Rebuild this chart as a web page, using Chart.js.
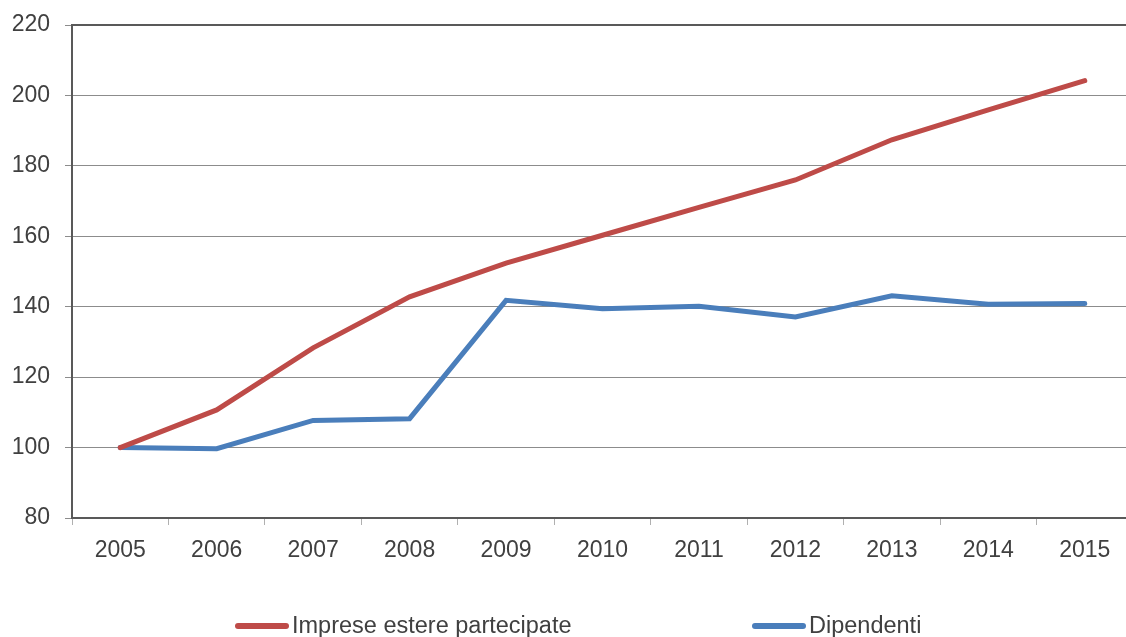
<!DOCTYPE html>
<html>
<head>
<meta charset="utf-8">
<script src="https://cdn.jsdelivr.net/npm/chart.js@4/dist/chart.umd.min.js"></script>
<style>
  html, body { margin: 0; padding: 0; background: #fff; overflow: hidden; }
  #wrap { width: 1136px; height: 637px; }
</style>
</head>
<body>
<div id="wrap"><canvas id="myLineChart" width="1136" height="637"></canvas></div>
<script>
// Anni e serie (indice 2005 = 100)
const years = ['2005', '2006', '2007', '2008', '2009', '2010', '2011', '2012', '2013', '2014', '2015'];
const impreseEstere = [100, 110.7, 128.3, 142.8, 152.4, 160.3, 168.2, 176.0, 187.4, 195.9, 204.2];
const dipendenti = [100, 99.7, 107.7, 108.2, 141.8, 139.4, 140.1, 137.1, 143.1, 140.7, 140.9];
const seriesLabels = ['Imprese estere partecipate', 'Dipendenti'];
const yMin = 80, yMax = 220, yStep = 20;

const textColor = '#404040';
const axisColor = '#595959';

// top/right frame of the plot area + legend at the bottom
const framePlugin = {
  id: 'frameAndLegend',
  afterDraw(chart) {
    const ctx = chart.ctx;
    const a = chart.chartArea;
    ctx.save();
    ctx.strokeStyle = axisColor;
    ctx.lineWidth = 2;
    ctx.beginPath();
    ctx.moveTo(a.left - 1, a.top);
    ctx.lineTo(a.right, a.top);
    ctx.lineTo(a.right, a.bottom);
    ctx.stroke();

    // legend
    const legendX = [235, 752];
    const legendY = 626;
    ctx.font = '23.5px "Liberation Sans", Arial, sans-serif';
    ctx.textBaseline = 'middle';
    chart.data.datasets.forEach((ds, i) => {
      ctx.strokeStyle = ds.borderColor;
      ctx.lineWidth = 6;
      ctx.lineCap = 'round';
      ctx.beginPath();
      ctx.moveTo(legendX[i] + 3, legendY);
      ctx.lineTo(legendX[i] + 51, legendY);
      ctx.stroke();
      ctx.fillStyle = textColor;
      ctx.fillText(ds.label, legendX[i] + 57, legendY + 1);
    });
    ctx.restore();
  }
};

const chartEl = document.getElementById('myLineChart').getContext('2d');

const myLineChart = new Chart(chartEl, {
  type: 'line',
  data: {
    labels: years,
    datasets: [{
      label: seriesLabels[0],
      data: impreseEstere,
      borderColor: '#BE4B48',
      backgroundColor: '#BE4B48',
      borderWidth: 5,
      borderCapStyle: 'round',
      pointRadius: 0,
      tension: 0,
      fill: false
    }, {
      label: seriesLabels[1],
      data: dipendenti,
      borderColor: '#4A7EBB',
      backgroundColor: '#4A7EBB',
      borderWidth: 5,
      borderCapStyle: 'round',
      pointRadius: 0,
      tension: 0,
      fill: false
    }]
  },
  options: {
    responsive: false,
    animation: false,
    layout: { padding: { top: 25, right: 3, left: 0, bottom: 0 } },
    plugins: {
      legend: { display: false },
      tooltip: { enabled: false }
    },
    scales: {
      x: {
        offset: true,
        grid: {
          offset: true,
          drawOnChartArea: false,
          color: '#b0b0b0',
          tickLength: 7
        },
        border: { color: axisColor, width: 2 },
        ticks: {
          color: textColor,
          padding: 12,
          maxRotation: 0,
          font: { family: '"Liberation Sans", Arial, sans-serif', size: 23 }
        },
        afterFit(scale) { scale.height = 119; }
      },
      y: {
        min: yMin,
        max: yMax,
        ticks: {
          stepSize: yStep,
          color: textColor,
          padding: 15,
          font: { family: '"Liberation Sans", Arial, sans-serif', size: 23 }
        },
        grid: {
          color: '#8c8c8c',
          lineWidth: 1,
          tickLength: 7
        },
        border: { color: axisColor, width: 2 },
        afterFit(scale) {
          scale.width = 72;
          scale.paddingTop = 0;
          scale.paddingBottom = 0;
        }
      }
    }
  },
  plugins: [framePlugin]
});
</script>
</body>
</html>
